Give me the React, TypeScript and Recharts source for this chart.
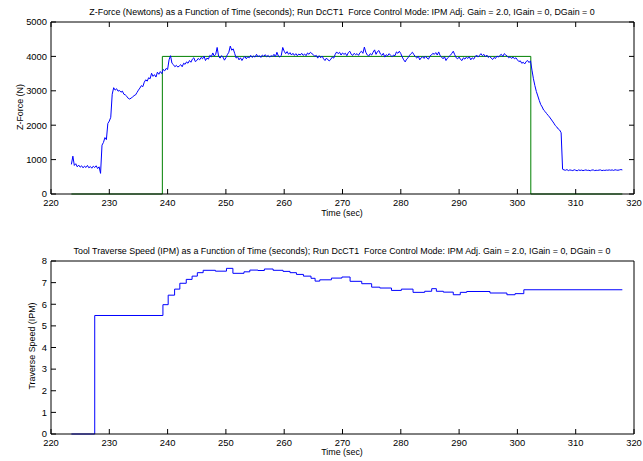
import React from "react";
import { LineChart, Line, XAxis, YAxis } from "recharts";

// time axis shared by both panels
const timeTicks = [220, 230, 240, 250, 260, 270, 280, 290, 300, 310, 320];
const forceTicks = [0, 1000, 2000, 3000, 4000, 5000];
const speedTicks = [0, 1, 2, 3, 4, 5, 6, 7, 8];

// measured Z-force, one sample every 0.25 s starting at 223.5 s
const forceStart = 223.5;
const forceStep = 0.25;
const forceValues = [
  860, 1100,
  830, 880, 790, 840,
  780, 820, 760, 810,
  770, 830, 760, 800,
  750, 810, 770, 820,
  740, 790, 600, 1420,
  1500, 1640, 1580, 2050,
  2120, 2230, 2900, 3090,
  3020, 3060, 2990, 3010,
  2960, 2990, 2900, 2880,
  2840, 2780, 2760, 2790,
  2820, 2860, 2880, 2950,
  3020, 3080, 3150, 3120,
  3250, 3320, 3280, 3380,
  3350, 3510, 3420, 3470,
  3400, 3540, 3480, 3560,
  3500, 3620, 3580, 3650,
  3620, 3900, 4020, 3800,
  3760, 3700, 3740, 3690,
  3720, 3760, 3700, 3800,
  3770, 3840, 3800, 3880,
  3830, 3920, 3960, 3850,
  3880, 3940, 3900, 3970,
  3930, 4010, 3880, 3950,
  3920, 4030, 3990, 4100,
  4010, 4060, 4260, 4000,
  3950, 4020, 3980, 3890,
  3960, 4050, 4120, 4300,
  4180, 4220, 4090, 3950,
  3990, 3900, 3960, 3880,
  3950, 4000, 3930, 3990,
  3960, 4030, 3970, 4010,
  3980, 4060, 3990, 4020,
  3970, 4040, 4000, 4050,
  3990, 4030, 3980, 4020,
  4000, 4060, 3990, 4120,
  4010, 3980, 4030, 4260,
  4150, 4080, 4140, 4060,
  4110, 4040, 4090, 4030,
  4080, 4020, 4070, 4040,
  4090, 4030, 4070, 4020,
  4100, 4060, 4120, 4080,
  4050, 4000, 4030, 3950,
  4020, 3960, 4010, 3930,
  3880, 3950, 3900, 3870,
  3920, 3980, 3950, 4060,
  4130, 4080, 4120, 4040,
  4100, 4060, 4090, 4020,
  4110, 4150, 4060, 4030,
  4090, 4050, 4080, 4030,
  4110, 4150, 4090, 4270,
  4120, 4040, 4010, 4080,
  4040, 4120, 4190, 4060,
  4140, 4170, 4070, 4030,
  4090, 3980, 4050, 4020,
  4080, 4030, 3990, 4040,
  4020, 4130, 4090, 4150,
  4080, 3980, 3900, 3840,
  3920, 3960, 4030, 4080,
  4120, 4050, 3990, 3950,
  4010, 3900, 3960, 3990,
  3940, 4010, 3950, 3920,
  4010, 4040, 4090, 4060,
  4110, 4040, 4130, 4020,
  3980, 3930, 3990, 3880,
  3950, 3990, 4030, 4090,
  4150, 4050, 3960, 3930,
  3980, 3910, 3880, 3960,
  3920, 3980, 3940, 3990,
  3900, 3960, 3920, 3990,
  4040, 3980, 4030, 4080,
  4020, 4060, 3990, 4040,
  3970, 4000, 3950, 3910,
  3970, 3940, 4010, 3980,
  4030, 4060, 4000, 4080,
  4040, 4010, 3960, 3990,
  3940, 3980, 3930, 3960,
  3900, 3850, 3870, 3800,
  3830, 3780, 3850, 3880,
  3820, 3870, 3600, 3350,
  3150, 2980, 2850, 2720,
  2600, 2530, 2440, 2400,
  2340, 2290, 2240, 2180,
  2120, 2060, 1990, 1950,
  1890, 1860, 1780, 720,
  700, 690, 710, 680,
  700, 690, 680, 705,
  690, 675, 700, 685,
  695, 680, 690, 700,
  685, 690, 675, 695,
  700, 680, 690, 685,
  695, 700, 680, 690,
  685, 695, 690, 700,
  690, 700, 685, 705,
  695, 690, 700, 710,
  700,
];

// commanded force (green)
const commandTimes = [223.5, 239.1, 239.1, 302.3, 302.3, 318];
const commandValues = [0, 0, 4000, 4000, 0, 0];

// traverse speed steps
const speedTimes = [
  223.5, 227.5, 239.2, 240.1, 241.2, 242.1, 243.2, 244.2, 245.1, 246.1,
  248.2, 250.1, 251.2, 253.1, 254.1, 255.5, 256.6, 258.1, 259.8, 261.0,
  262.1, 263.3, 264.6, 265.3, 266.1, 268.1, 269.9, 271.3, 273.3, 275.0,
  276.4, 278.4, 280.1, 282.1, 284.1, 285.3, 286.1, 287.3, 289.0, 290.2,
  291.3, 295.3, 298.2, 299.6, 301.1, 318.0,
];
const speedValues = [
  0, 5.48, 5.98, 6.42, 6.7, 6.97, 7.15, 7.3, 7.46, 7.57,
  7.53, 7.66, 7.43, 7.5, 7.58, 7.56, 7.63, 7.57, 7.52, 7.46,
  7.38, 7.3, 7.2, 7.07, 7.13, 7.21, 7.26, 7.06, 6.95, 6.79,
  6.75, 6.64, 6.7, 6.55, 6.6, 6.72, 6.6, 6.56, 6.44, 6.55,
  6.59, 6.52, 6.44, 6.49, 6.67, 6.67,
];

const forceData = forceValues.map((v, i) => ({ t: forceStart + i * forceStep, v }));
const commandData = commandTimes.map((t, i) => ({ t, v: commandValues[i] }));
const speedData = speedTimes.map((t, i) => ({ t, v: speedValues[i] }));

const font = "'Liberation Sans', Arial, sans-serif";
const tickStyle = { fontSize: 9.4, fill: "#000", fontFamily: font };
const blank = () => "";

function boxAxes(yTicks: number[], yMax: number) {
  return [
    <XAxis
      key="xb"
      xAxisId="b"
      dataKey="t"
      type="number"
      domain={[220, 320]}
      ticks={timeTicks}
      height={30}
      tickSize={-5}
      tickMargin={10}
      stroke="#000"
      tick={tickStyle}
      interval={0}
    />,
    <XAxis
      key="xt"
      xAxisId="t"
      orientation="top"
      dataKey="t"
      type="number"
      domain={[220, 320]}
      ticks={timeTicks}
      height={1}
      tickSize={-5}
      stroke="#000"
      tickFormatter={blank}
      interval={0}
    />,
    <YAxis
      key="yl"
      yAxisId="l"
      type="number"
      domain={[0, yMax]}
      ticks={yTicks}
      width={40}
      tickSize={-5}
      tickMargin={9}
      stroke="#000"
      tick={tickStyle}
      interval={0}
    />,
    <YAxis
      key="yr"
      yAxisId="r"
      orientation="right"
      type="number"
      domain={[0, yMax]}
      ticks={yTicks}
      width={1}
      tickSize={-5}
      stroke="#000"
      tickFormatter={blank}
      interval={0}
    />,
  ];
}

const textBase: React.CSSProperties = {
  position: "absolute",
  fontFamily: font,
  fontSize: 8.9,
  lineHeight: "12px",
  color: "#000",
  whiteSpace: "pre",
  textAlign: "center",
};

function Caption({ cx, cy, text, rotate }: { cx: number; cy: number; text: string; rotate?: boolean }) {
  return (
    <div
      style={{
        ...textBase,
        left: cx - 300,
        top: cy - 6,
        width: 600,
        transform: rotate ? "rotate(-90deg)" : undefined,
      }}
    >
      {text}
    </div>
  );
}

export default function App() {
  return (
    <div style={{ position: "absolute", left: 0, top: 0, width: 643, height: 461, background: "#fff" }}>
      <div style={{ position: "absolute", left: 0, top: 0 }}>
        <LineChart width={643} height={230} margin={{ top: 21, right: 8, left: 11, bottom: 6 }}>
          {boxAxes(forceTicks, 5000)}
          <Line
            data={commandData}
            xAxisId="t"
            yAxisId="r"
            dataKey="v"
            stroke="#008000"
            strokeWidth={1}
            dot={false}
            isAnimationActive={false}
          />
          <Line
            data={forceData}
            xAxisId="b"
            yAxisId="l"
            dataKey="v"
            stroke="#0000ff"
            strokeWidth={1}
            dot={false}
            isAnimationActive={false}
          />
        </LineChart>
      </div>
      <div style={{ position: "absolute", left: 0, top: 240 }}>
        <LineChart width={643} height={230} margin={{ top: 20, right: 8, left: 11, bottom: 6 }}>
          {boxAxes(speedTicks, 8)}
          <Line
            data={speedData}
            xAxisId="b"
            yAxisId="l"
            dataKey="v"
            type="stepAfter"
            stroke="#0000ff"
            strokeWidth={1}
            dot={false}
            isAnimationActive={false}
          />
        </LineChart>
      </div>
      <Caption
        cx={342}
        cy={12}
        text="Z-Force (Newtons) as a Function of Time (seconds); Run DcCT1  Force Control Mode: IPM Adj. Gain = 2.0, IGain = 0, DGain = 0"
      />
      <Caption cx={342} cy={213} text="Time (sec)" />
      <Caption cx={20} cy={107} text="Z-Force (N)" rotate />
      <Caption
        cx={342}
        cy={251}
        text="Tool Traverse Speed (IPM) as a Function of Time (seconds); Run DcCT1  Force Control Mode: IPM Adj. Gain = 2.0, IGain = 0, DGain = 0"
      />
      <Caption cx={342} cy={452} text="Time (sec)" />
      <Caption cx={32} cy={346} text="Traverse Speed (IPM)" rotate />
    </div>
  );
}
